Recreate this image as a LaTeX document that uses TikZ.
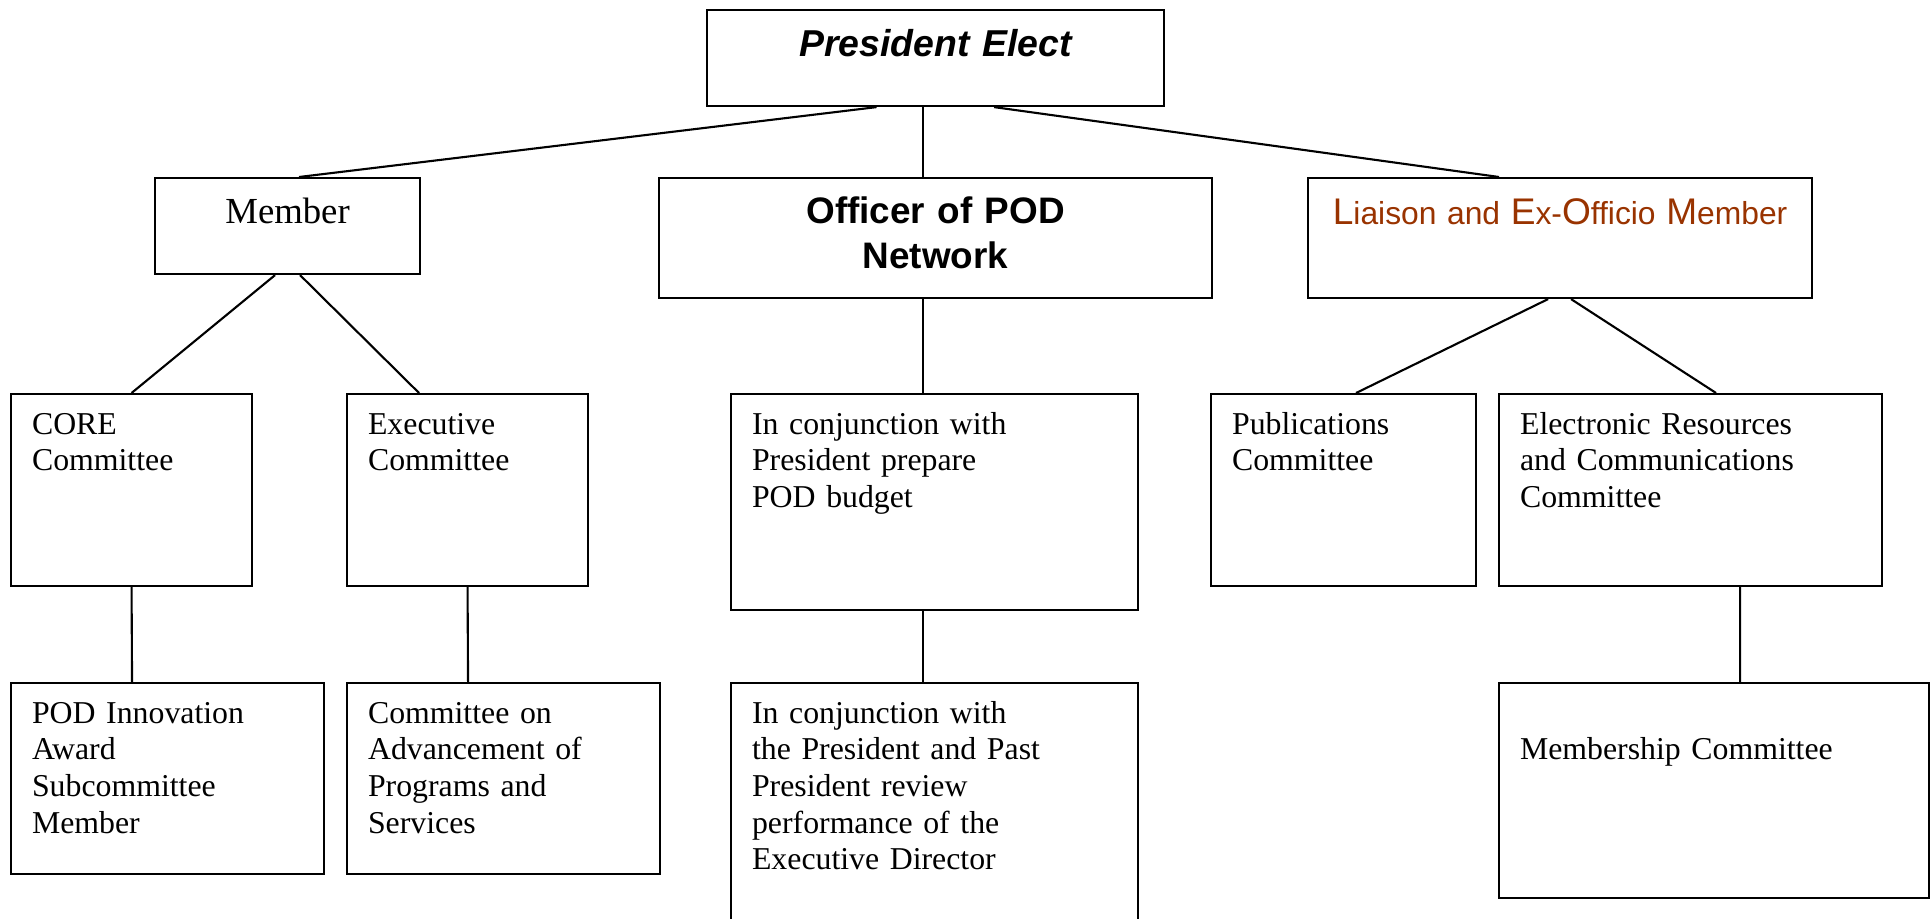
\documentclass[tikz,border=0pt]{standalone}
\usepackage{fontspec}
\setmainfont{Liberation Serif}
\newfontfamily\arial{Liberation Sans}
\usetikzlibrary{positioning, calc}
\newlength{\pxu}
\setlength{\pxu}{0.02cm}
\definecolor{cafeEnlace}{HTML}{993300}
\newcommand{\mayus}[1]{{\fontsize{21.1}{25.6}\selectfont #1}}
\tikzset{
  cajaBase/.style={
    draw=black, line width=1.2pt, anchor=north west,
    inner xsep=21\pxu, inner ysep=0pt, align=left,
    font=\fontsize{18.1}{20.9}\selectfont
  },
  cajaTitulo/.style={cajaBase, align=center, inner xsep=8\pxu},
  linea/.style={draw=black, line width=1.2pt},
}

\begin{document}
\begin{tikzpicture}[x=\pxu, y=-\pxu]
  \useasboundingbox (0,0) rectangle (1930,919);
  \clip (0,0) rectangle (1930,919);
  % nivel superior
  \node[cajaTitulo, text width=441\pxu, text height=46\pxu, text depth=50\pxu,
        font=\arial\bfseries\itshape\fontsize{21.3}{25.6}\selectfont] (pres) at (706,9) {President Elect};
  % segundo nivel
  \node[cajaTitulo, text width=249\pxu, text height=45\pxu, text depth=51\pxu,
        font=\fontsize{20.9}{24}\selectfont] (miembro) at (154,177) {Member};
  \node[cajaTitulo, text width=537\pxu, text height=45\pxu, text depth=75\pxu,
        font=\arial\bfseries\fontsize{21}{25.6}\selectfont] (oficial) at (658,177) {Officer of POD\\Network};
  \node[cajaTitulo, text width=488\pxu, text height=46\pxu, text depth=74\pxu, text=cafeEnlace,
        font=\arial\fontsize{18.1}{25.6}\selectfont] (enlace) at (1307,177)
        {\mayus{L}iaison and \mayus{E}x-\mayus{O}fficio \mayus{M}ember};
  % comites
  \node[cajaBase, text width=199\pxu, text height=40\pxu, text depth=152\pxu] (core) at (10,393) {CORE\\Committee};
  \node[cajaBase, text width=199\pxu, text height=40\pxu, text depth=152\pxu] (ejec) at (346,393) {Executive\\Committee};
  \node[cajaBase, text width=365\pxu, text height=40\pxu, text depth=176\pxu] (presup) at (730,393)
        {In conjunction with\\President prepare\\POD budget};
  \node[cajaBase, text width=223\pxu, text height=40\pxu, text depth=152\pxu] (publ) at (1210,393) {Publications\\Committee};
  \node[cajaBase, text width=341\pxu, text height=40\pxu, text depth=152\pxu] (elec) at (1498,393)
        {Electronic Resources\\and Communications\\Committee};
  % nivel inferior
  \node[cajaBase, text width=271\pxu, text height=40\pxu, text depth=151\pxu] (innov) at (10,682)
        {POD Innovation\\Award\\Subcommittee\\Member};
  \node[cajaBase, text width=271\pxu, text height=40\pxu, text depth=151\pxu] (avance) at (346,682)
        {Committee on\\Advancement of\\Programs and\\Services};
  \node[cajaBase, text width=365\pxu, text height=40\pxu, text depth=260\pxu] (revision) at (730,682)
        {In conjunction with\\the President and Past\\President review\\performance of the\\Executive Director};
  \node[cajaBase, text width=388\pxu, text height=76\pxu, text depth=139\pxu] (membresia) at (1498,682)
        {Membership Committee};
  % conectores
  \draw[linea] ([xshift=-59\pxu]pres.south) -- ([xshift=11.5\pxu]miembro.north);
  \draw[linea] ([xshift=-12.5\pxu]pres.south) -- ([xshift=-12.5\pxu]oficial.north);
  \draw[linea] ([xshift=58.5\pxu]pres.south) -- ([xshift=-61\pxu]enlace.north);
  \draw[linea] ([xshift=-12.5\pxu]miembro.south) -- (core.north);
  \draw[linea] ([xshift=12.5\pxu]miembro.south) -- ([xshift=-48.5\pxu]ejec.north);
  \draw[linea] (core.south) -- ([xshift=-35.5\pxu]innov.north);
  \draw[linea] (ejec.south) -- ([xshift=-35.5\pxu]avance.north);
  \draw[linea] ([xshift=-12.5\pxu]oficial.south) -- ([xshift=-11.5\pxu]presup.north);
  \draw[linea] ([xshift=-11.5\pxu]presup.south) -- ([xshift=-11.5\pxu]revision.north);
  \draw[linea] ([xshift=-12\pxu]enlace.south) -- ([xshift=12.5\pxu]publ.north);
  \draw[linea] ([xshift=11\pxu]enlace.south) -- ([xshift=25.5\pxu]elec.north);
  \draw[linea] ([xshift=49.5\pxu]elec.south) -- ([xshift=26\pxu]membresia.north);
\end{tikzpicture}
\end{document}
